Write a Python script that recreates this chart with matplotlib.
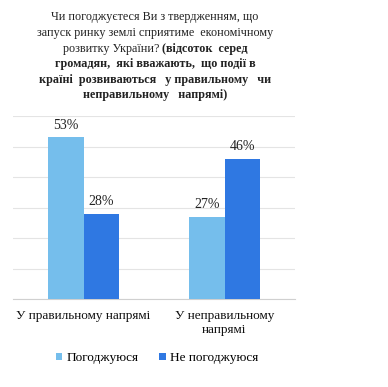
import matplotlib
matplotlib.use('Agg')
import matplotlib.pyplot as plt
import numpy as np

# Дані
categories = ['У правильному напрямі', 'У неправильному\nнапрямі']
agree = [53, 27]
disagree = [28, 46]
series_names = ['Погоджуюся', 'Не погоджуюся']
colors = ['#75BEEC', '#2F78E2']

plt.rcParams['font.family'] = ['Liberation Serif', 'DejaVu Serif']

fig = plt.figure(figsize=(3.88, 3.87), dpi=100)
ax = fig.add_axes([13/388, 1 - 299/387, 282/388, 183/387])

x = np.arange(len(categories))
w = 0.25
b1 = ax.bar(x - w/2, agree, w, color=colors[0], label=series_names[0], zorder=3)
b2 = ax.bar(x + w/2, disagree, w, color=colors[1], label=series_names[1], zorder=3)

for bars in (b1, b2):
    for r in bars:
        ax.annotate(f'{r.get_height():.0f}%', (r.get_x() + r.get_width()/2, r.get_height()),
                    xytext=(0, 4), textcoords='offset points', ha='center', va='bottom',
                    fontsize=10, color='#222222')

ax.set_xlim(-0.5, 1.5)
ax.set_ylim(0, 60)
ax.set_yticks(range(0, 61, 10))
ax.set_yticklabels([])
ax.tick_params(axis='y', length=0)
ax.tick_params(axis='x', length=0, labelsize=9.5, pad=8)
ax.set_xticks(x)
ax.set_xticklabels(categories, color='#111111')
ax.grid(True, axis='y', color='#e4e4e4', linewidth=0.8, zorder=0)
for s in ['left', 'right', 'top']:
    ax.spines[s].set_visible(False)
ax.spines['bottom'].set_color('#d0d0d0')

ax.legend(loc='center', bbox_to_anchor=(157/388, 1 - 358/387), bbox_transform=fig.transFigure,
          ncol=2, frameon=False, fontsize=9.5, handlelength=0.5, handleheight=0.5,
          handletextpad=0.3, columnspacing=1.6)

# Заголовок
cx = 155 / 388
fs = 8.7
lines_y = [17, 33, 49, 64, 80, 95]
normal_lines = ['Чи погоджуєтеся Ви з твердженням, що',
                'запуск ринку землі сприятиме  економічному']
bold_lines = ['громадян,  які вважають,  що події в',
              'країні  розвиваються   у правильному   чи',
              'неправильному   напрямі)']
for t, yy in zip(normal_lines, lines_y[:2]):
    fig.text(cx, 1 - yy/387, t, ha='center', va='center', fontsize=fs, color='#222222')

# третій рядок: змішане накреслення
renderer = fig.canvas.get_renderer()
p1 = 'розвитку України? '
p2 = '(відсоток  серед'
t1 = fig.text(0, 0, p1, fontsize=fs)
t2 = fig.text(0, 0, p2, fontsize=fs, fontweight='bold')
w1 = t1.get_window_extent(renderer).width / fig.bbox.width
w2 = t2.get_window_extent(renderer).width / fig.bbox.width
t1.remove(); t2.remove()
start = cx - (w1 + w2) / 2
y3 = 1 - lines_y[2]/387
fig.text(start, y3, p1, ha='left', va='center', fontsize=fs, color='#222222')
fig.text(start + w1, y3, p2, ha='left', va='center', fontsize=fs, fontweight='bold', color='#222222')

for t, yy in zip(bold_lines, lines_y[3:]):
    fig.text(cx, 1 - yy/387, t, ha='center', va='center', fontsize=fs, fontweight='bold', color='#222222')

plt.savefig('out.png', dpi=100)
